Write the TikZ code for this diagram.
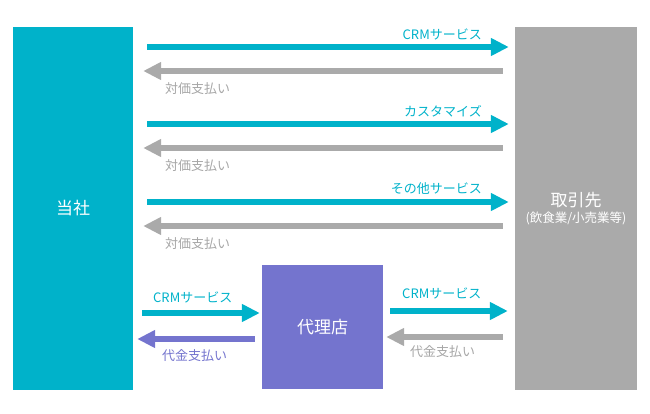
\documentclass[tikz,border=0pt]{standalone}
\usepackage{fontspec}
\setmainfont{Noto Sans CJK JP}
\usetikzlibrary{arrows.meta}

\definecolor{bleu}{HTML}{00B2CA}
\definecolor{gris}{HTML}{AAAAAA}
\definecolor{grislbl}{HTML}{A6A6A6}
\definecolor{mauve}{HTML}{7474CE}

\begin{document}
\begin{tikzpicture}[x=1pt,y=-1pt]
\tikzset{
	boite/.style={minimum width=120pt, minimum height=363pt, inner sep=0pt, text=white, font=\fontsize{17}{20}\selectfont},
	fleche/.style={line width=6pt, -{Triangle[length=18pt,width=17pt]}},
	etiq/.style={inner sep=0pt, font=\fontsize{13}{15}\selectfont}
}
\useasboundingbox (0,0) rectangle (650,413);

% les trois acteurs
\node[boite, fill=bleu] (tosha) at (73,208.5) {当社};
\node[boite, fill=gris, minimum width=122pt, align=center] (torihiki) at (576,208.5) {取引先\\[-4pt]{\fontsize{12.5}{14}\selectfont (飲食業/小売業等)}};
\node[boite, fill=mauve, minimum width=121pt, minimum height=124pt] (dairi) at (322.5,327) {代理店};

% flux directs
\foreach \y/\service [count=\i] in {47/CRMサービス, 124/カスタマイズ, 202/その他サービス}{
  \draw[fleche, bleu, shorten <=14pt, shorten >=6pt] (tosha.east |- 0,\y) -- (torihiki.west |- 0,\y);
  \draw[fleche, gris, shorten <=12pt, shorten >=10pt] (torihiki.west |- 0,\y+24) -- (tosha.east |- 0,\y+24);
  \node[etiq, text=bleu, anchor=east] (svc\i) at (482,\y-13) {\service};
  \node[etiq, text=grislbl, anchor=west] (pay\i) at (165,\y+42) {対価支払い};
}

% flux via le 代理店
\draw[fleche, bleu, shorten <=9pt, shorten >=2pt] (tosha.east |- 0,313) -- (dairi.west |- 0,313);
\draw[fleche, mauve, shorten <=7pt, shorten >=4pt] (dairi.west |- 0,339) -- (tosha.east |- 0,339);
\draw[fleche, bleu, shorten <=7pt, shorten >=7pt] (dairi.east |- 0,311) -- (torihiki.west |- 0,311);
\draw[fleche, gris, shorten <=12pt, shorten >=3pt] (torihiki.west |- 0,337) -- (dairi.east |- 0,337);

\node[etiq, text=bleu, anchor=west] (svcA) at (153,297) {CRMサービス};
\node[etiq, text=mauve, anchor=west] (payA) at (162,356) {代金支払い};
\node[etiq, text=bleu, anchor=west] (svcB) at (402,293) {CRMサービス};
\node[etiq, text=grislbl, anchor=west] (payB) at (410,352) {代金支払い};
\end{tikzpicture}
\end{document}
